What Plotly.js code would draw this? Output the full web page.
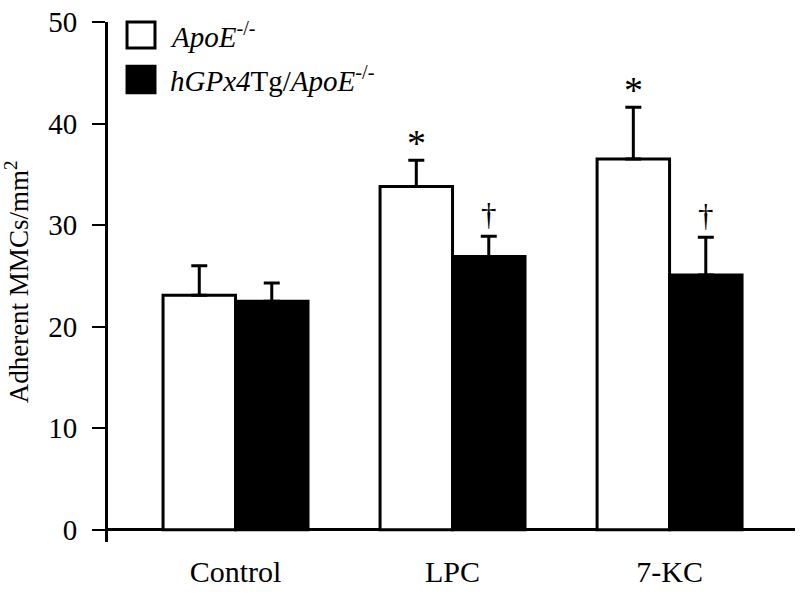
<!DOCTYPE html>
<html>
<head>
<meta charset="utf-8">
<script src="https://cdn.plot.ly/plotly-3.0.1.min.js"></script>
<style>html,body{margin:0;padding:0;background:#fff;}#chart{width:800px;height:594px;}</style>
</head>
<body>
<div id="chart"></div>
<script>
const categories = ['Control', 'LPC', '7-KC'];
const apoeMean = [23.1, 33.8, 36.5];
const apoeErr = [2.9, 2.6, 5.1];
const tgMean = [22.5, 26.9, 25.1];
const tgErr = [1.8, 2.0, 3.7];
const apoeMarks = ['', '*', '*'];
const tgMarks = ['', '†', '†'];
const yTicks = [0, 10, 20, 30, 40, 50];
const seriesNames = ['<i>ApoE</i><sup>-/-</sup>', '<i>hGPx4</i>Tg/<i>ApoE</i><sup>-/-</sup>'];

const FONT = 'Liberation Serif, Times New Roman, serif';
const barOffset = (1 - 0.332) / 4; // half of one bar's width in category units

const traces = [
  {
    type: 'bar', name: seriesNames[0], x: categories, y: apoeMean,
    marker: {color: '#ffffff', line: {color: '#000', width: 3}},
    error_y: {type: 'data', array: apoeErr, symmetric: false, arrayminus: [0,0,0], color: '#000', thickness: 3, width: 8},
    showlegend: false, hoverinfo: 'x+y'
  },
  {
    type: 'bar', name: seriesNames[1], x: categories, y: tgMean,
    marker: {color: '#000000', line: {color: '#000', width: 3}},
    error_y: {type: 'data', array: tgErr, symmetric: false, arrayminus: [0,0,0], color: '#000', thickness: 3, width: 8},
    showlegend: false, hoverinfo: 'x+y'
  }
];

const annotations = [];
categories.forEach((c, i) => {
  if (apoeMarks[i]) annotations.push({x: i - barOffset, y: apoeMean[i] + apoeErr[i], xref: 'x', yref: 'y', text: apoeMarks[i], showarrow: false, yanchor: 'bottom', yshift: -6, font: {family: FONT, size: 38, color: '#000'}});
  if (tgMarks[i]) annotations.push({x: i + barOffset, y: tgMean[i] + tgErr[i], xref: 'x', yref: 'y', text: tgMarks[i], showarrow: false, yanchor: 'bottom', yshift: 2, font: {family: FONT, size: 31, color: '#000'}});
});
// legend text
annotations.push({x: 0.0873, y: 0.975, xref: 'paper', yref: 'paper', xanchor: 'left', yanchor: 'middle', text: seriesNames[0], showarrow: false, font: {family: FONT, size: 29, color: '#000'}});
annotations.push({x: 0.0873, y: 0.890, xref: 'paper', yref: 'paper', xanchor: 'left', yanchor: 'middle', text: seriesNames[1], showarrow: false, font: {family: FONT, size: 29, color: '#000'}});

const shapes = [
  {type: 'rect', xref: 'paper', yref: 'paper', x0: 0.0277, x1: 0.0684, y0: 0.950, y1: 1.0, fillcolor: '#fff', line: {color: '#000', width: 3}},
  {type: 'rect', xref: 'paper', yref: 'paper', x0: 0.0277, x1: 0.0684, y0: 0.864, y1: 0.915, fillcolor: '#000', line: {color: '#000', width: 3}}
];

const layout = {
  width: 800, height: 594,
  margin: {l: 108, r: 5, t: 22, b: 52},
  paper_bgcolor: '#fff', plot_bgcolor: '#fff',
  barmode: 'group', bargap: 0.332, bargroupgap: 0,
  font: {family: FONT, size: 28, color: '#000'},
  xaxis: {
    type: 'category', range: [-0.5876, 2.578], showline: false, showgrid: false, zeroline: false,
    ticks: '', ticklabelstandoff: 9, tickfont: {family: FONT, size: 30, color: '#000'}
  },
  yaxis: {
    range: [-1.2, 50], tickvals: yTicks, showline: true, linecolor: '#000', linewidth: 3,
    ticks: 'outside', ticklen: 13, tickwidth: 2, tickcolor: '#000', showgrid: false,
    zeroline: true, zerolinecolor: '#000', zerolinewidth: 3,
    ticklabelstandoff: 9, tickfont: {family: FONT, size: 29, color: '#000'},
    title: {text: 'Adherent MMCs/mm<sup>2</sup>', font: {family: FONT, size: 27, color: '#000'}, standoff: 17}
  },
  annotations: annotations,
  shapes: shapes
};

Plotly.newPlot('chart', traces, layout, {staticPlot: true, displayModeBar: false});
</script>
</body>
</html>
